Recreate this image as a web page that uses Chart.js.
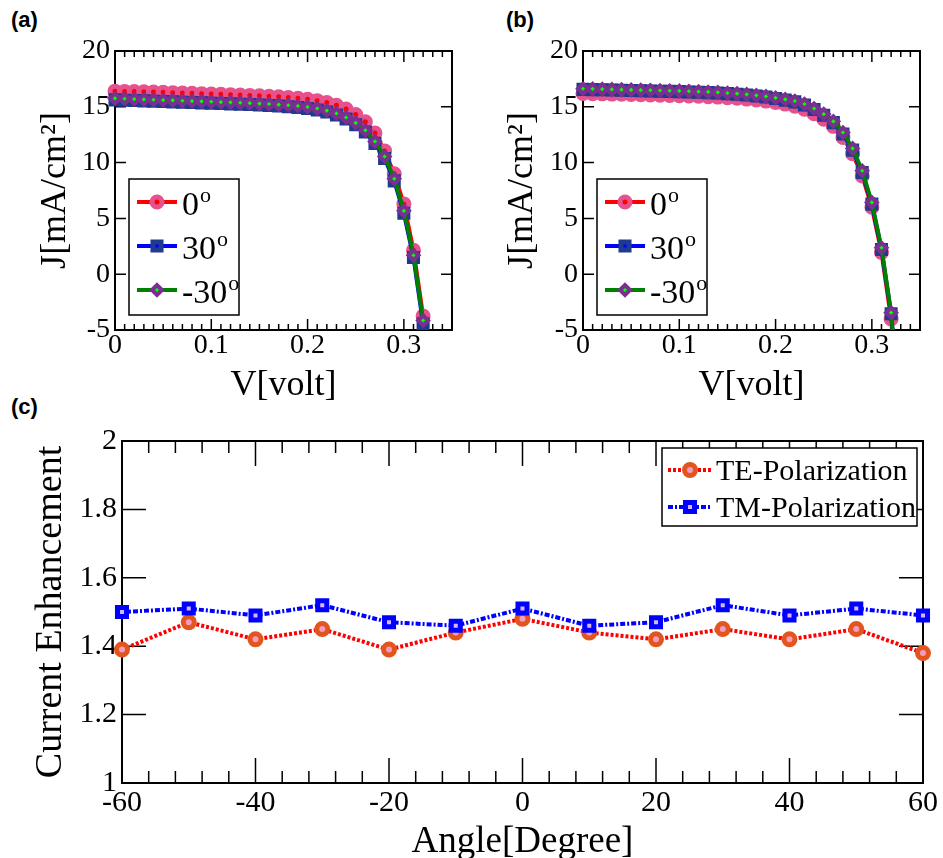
<!DOCTYPE html>
<html>
<head>
<meta charset="utf-8">
<script src="https://cdn.jsdelivr.net/npm/chart.js@4.4.0/dist/chart.umd.min.js"></script>
<style>
  body { margin: 0; background: #fff; width: 943px; height: 858px; position: relative; overflow: hidden; }
  canvas { position: absolute; }
  .panel { position: absolute; font: bold 22px "Liberation Sans", Arial, sans-serif; line-height: 22px; color: #000; }
</style>
</head>
<body>
<div class="panel" style="left:11px;top:9px">(a)</div>
<div class="panel" style="left:506px;top:9px">(b)</div>
<div class="panel" style="left:11px;top:396px">(c)</div>
<canvas id="chartA" width="470" height="410" style="left:0;top:0"></canvas>
<canvas id="chartB" width="473" height="410" style="left:470px;top:0"></canvas>
<canvas id="chartC" width="943" height="448" style="left:0;top:410px"></canvas>
<script>
'use strict'

const SERIF = '"Liberation Serif", "Times New Roman", serif';

// ---- panel (a) : J-V curves
const voltA = [0, 0.01, 0.02, 0.03, 0.04, 0.05, 0.06, 0.07, 0.08, 0.09, 0.1,
  0.11, 0.12, 0.13, 0.14, 0.15, 0.16, 0.17, 0.18, 0.19, 0.2,
  0.21, 0.22, 0.23, 0.24, 0.25, 0.26, 0.27, 0.28, 0.29, 0.3, 0.31, 0.32];
const jA0 = [16.40, 16.38, 16.36, 16.34, 16.32, 16.30, 16.27, 16.24, 16.21, 16.18, 16.15,
  16.12, 16.09, 16.06, 16.02, 15.98, 15.94, 15.89, 15.83, 15.76, 15.67,
  15.55, 15.38, 15.14, 14.80, 14.30, 13.65, 12.65, 11.05, 9.00, 6.30, 2.15, -3.75];
const jA30 = [15.62, 15.59, 15.56, 15.53, 15.50, 15.47, 15.44, 15.41, 15.38, 15.35, 15.32,
  15.29, 15.26, 15.23, 15.20, 15.16, 15.12, 15.07, 15.01, 14.94, 14.85,
  14.72, 14.53, 14.27, 13.90, 13.40, 12.74, 11.72, 10.37, 8.36, 5.46, 1.50, -4.45];
const jAm30 = [15.75, 15.72, 15.69, 15.66, 15.63, 15.60, 15.57, 15.54, 15.51, 15.48, 15.45,
  15.42, 15.39, 15.36, 15.33, 15.29, 15.25, 15.20, 15.14, 15.07, 14.98,
  14.85, 14.66, 14.40, 14.04, 13.56, 12.90, 11.90, 10.55, 8.55, 5.68, 1.70, -4.15];

// ---- panel (b)
const voltB = [0, 0.01, 0.02, 0.03, 0.04, 0.05, 0.06, 0.07, 0.08, 0.09, 0.1,
  0.11, 0.12, 0.13, 0.14, 0.15, 0.16, 0.17, 0.18, 0.19, 0.2,
  0.21, 0.22, 0.23, 0.24, 0.25, 0.26, 0.27, 0.28, 0.29, 0.3, 0.31, 0.32, 0.33];
const jB0 = [16.20, 16.18, 16.16, 16.14, 16.12, 16.10, 16.08, 16.06, 16.04, 16.02, 16.00,
  15.97, 15.94, 15.91, 15.87, 15.82, 15.76, 15.69, 15.61, 15.51, 15.38,
  15.24, 15.06, 14.78, 14.38, 13.88, 13.25, 12.25, 10.80, 8.80, 6.00, 1.95, -4.00, -14.0];
const jB30 = [16.56, 16.54, 16.52, 16.50, 16.48, 16.46, 16.44, 16.42, 16.40, 16.38, 16.36,
  16.33, 16.30, 16.27, 16.23, 16.18, 16.12, 16.05, 15.97, 15.87, 15.74,
  15.60, 15.44, 15.16, 14.75, 14.24, 13.58, 12.57, 11.12, 9.12, 6.28, 2.22, -3.55, -13.6];
const jBm30 = [16.62, 16.60, 16.58, 16.56, 16.54, 16.52, 16.50, 16.48, 16.46, 16.44, 16.42,
  16.39, 16.36, 16.33, 16.29, 16.24, 16.18, 16.11, 16.03, 15.93, 15.80,
  15.67, 15.52, 15.25, 14.85, 14.35, 13.70, 12.70, 11.27, 9.27, 6.43, 2.37, -3.45, -13.5];

const seriesAB = ['0o', '30o', '-30o'];
const xTicksAB = [0, 0.1, 0.2, 0.3];
const yTicksAB = [-5, 0, 5, 10, 15, 20];

// ---- panel (c) : current enhancement vs angle
const angles = [-60, -50, -40, -30, -20, -10, 0, 10, 20, 30, 40, 50, 60];
const teVals = [1.39, 1.47, 1.42, 1.45, 1.39, 1.44, 1.48, 1.44, 1.42, 1.45, 1.42, 1.45, 1.38];
const tmVals = [1.50, 1.51, 1.49, 1.52, 1.47, 1.46, 1.51, 1.46, 1.47, 1.52, 1.49, 1.51, 1.49];
const seriesC = ['TE-Polarization', 'TM-Polarization'];
const xTicksC = [-60, -40, -20, 0, 20, 40, 60];
const yTicksC = [1, 1.2, 1.4, 1.6, 1.8, 2];

function pts(xs, ys) {
  return xs.map((v, i) => ({ x: v, y: ys[i] }));
}

// frame + inward ticks on all four sides
const frameTicks = {
  id: 'frameTicks',
  beforeDatasetsDraw(chart, args, o) {
    const { ctx, chartArea: a, scales: { x, y } } = chart;
    ctx.save();
    ctx.strokeStyle = '#000';
    ctx.lineWidth = 1.5;
    ctx.beginPath();
    o.xMinor.forEach(v => {
      const px = x.getPixelForValue(v);
      ctx.moveTo(px, a.top); ctx.lineTo(px, a.top + o.xMinorLen);
      ctx.moveTo(px, a.bottom); ctx.lineTo(px, a.bottom - o.xMinorLen);
    });
    x.ticks.forEach(t => {
      const px = x.getPixelForValue(t.value);
      ctx.moveTo(px, a.top); ctx.lineTo(px, a.top + o.xMajorLen);
      ctx.moveTo(px, a.bottom); ctx.lineTo(px, a.bottom - o.xMajorLen);
    });
    y.ticks.forEach(t => {
      const py = y.getPixelForValue(t.value);
      ctx.moveTo(a.left, py); ctx.lineTo(a.left + o.yMajorLen, py);
      ctx.moveTo(a.right, py); ctx.lineTo(a.right - o.yMajorLen, py);
    });
    ctx.stroke();
    ctx.lineWidth = 2;
    ctx.strokeRect(a.left, a.top, a.right - a.left, a.bottom - a.top);
    ctx.restore();
  }
};

// boxed legend with line + marker, drawn inside the plot
const boxLegend = {
  id: 'boxLegend',
  afterDraw(chart, args, o) {
    const { ctx, chartArea: a } = chart;
    const x0 = o.fromRight ? a.right - o.dx - o.w : a.left + o.dx;
    const y0 = a.top + o.dy;
    ctx.save();
    ctx.fillStyle = '#fff';
    ctx.fillRect(x0, y0, o.w, o.h);
    ctx.strokeStyle = '#000';
    ctx.lineWidth = 1.5;
    ctx.strokeRect(x0, y0, o.w, o.h);
    chart.data.datasets.forEach((ds, i) => {
      const cy = y0 + o.first + i * o.gap;
      const lx = x0 + o.pad;
      ctx.beginPath();
      ctx.setLineDash(ds.borderDash || []);
      ctx.strokeStyle = ds.borderColor;
      ctx.lineWidth = ds.borderWidth;
      ctx.moveTo(lx, cy);
      ctx.lineTo(lx + o.line, cy);
      ctx.stroke();
      ctx.setLineDash([]);
      ctx.fillStyle = ds.pointBackgroundColor;
      ctx.strokeStyle = ds.pointBorderColor;
      ctx.lineWidth = ds.pointBorderWidth;
      Chart.helpers.drawPoint(ctx, { pointStyle: ds.pointStyle, radius: ds.pointRadius, borderWidth: ds.pointBorderWidth, rotation: 0 }, lx + o.line / 2, cy);
      ctx.fillStyle = '#000';
      ctx.textBaseline = 'alphabetic';
      ctx.textAlign = 'left';
      const tx = lx + o.line + o.gapText;
      const base = cy + o.baseOff;
      let main = ds.label, sup = '';
      if (o.supLast) { main = ds.label.slice(0, -1); sup = ds.label.slice(-1); }
      ctx.font = o.size + 'px ' + SERIF;
      ctx.fillText(main, tx, base);
      if (sup) {
        const w = ctx.measureText(main).width;
        ctx.font = o.supSize + 'px ' + SERIF;
        ctx.fillText(sup, tx + w + 1, base - o.supRaise);
      }
    });
    ctx.restore();
  }
};

const xMinorAB = [];
for (let i = 0; i <= 35; i++) xMinorAB.push(i / 100);
const xMinorC = [];
for (let v = -60; v <= 60; v += 4) xMinorC.push(v);

function ivSets(volt, s0, s30, sm30) {
  return [
    { label: seriesAB[0], data: pts(volt, s0), borderColor: '#ff0000', borderWidth: 4,
      pointStyle: 'circle', pointRadius: 5, pointBorderWidth: 5,
      pointBorderColor: '#e6528e', pointBackgroundColor: '#ff0000', order: 3 },
    { label: seriesAB[1], data: pts(volt, s30), borderColor: '#0000ff', borderWidth: 4,
      pointStyle: 'rect', pointRadius: 5.7, pointBorderWidth: 5,
      pointBorderColor: '#1f3a8f', pointBackgroundColor: '#0000ff', order: 2 },
    { label: seriesAB[2], data: pts(volt, sm30), borderColor: '#008000', borderWidth: 4,
      pointStyle: 'rectRot', pointRadius: 5, pointBorderWidth: 4,
      pointBorderColor: '#7b2f90', pointBackgroundColor: '#00ff00', order: 1 }
  ];
}

function ivOptions(yAxisWidth, padRight, titlePad) {
  return {
    responsive: false,
    animation: false,
    events: [],
    clip: { left: 10, top: 10, right: 10, bottom: 0 },
    layout: { padding: { left: 0, right: padRight, top: 51, bottom: 0 } },
    plugins: {
      legend: { display: false },
      tooltip: { enabled: false },
      frameTicks: { xMinor: xMinorAB, xMinorLen: 6, xMajorLen: 11, yMajorLen: 11 },
      boxLegend: { dx: 14, dy: 128, w: 110, h: 136, pad: 8, line: 40, gapText: 5,
        first: 23, gap: 44, size: 34, supSize: 22, supRaise: 13, baseOff: 13, supLast: true }
    },
    scales: {
      x: {
        type: 'linear', min: 0, max: 0.35,
        afterBuildTicks: s => { s.ticks = xTicksAB.map(v => ({ value: v })); },
        afterFit: s => { s.height = 80; },
        grid: { display: false, drawTicks: false }, border: { display: false },
        ticks: { color: '#000', font: { family: SERIF, size: 28, lineHeight: 1 }, padding: 2,
          maxRotation: 0, autoSkip: false, callback: v => String(v) },
        title: { display: true, text: 'V[volt]', color: '#000',
          font: { family: SERIF, size: 36, lineHeight: 1 }, padding: { top: 0, bottom: 6 } }
      },
      y: {
        type: 'linear', min: -5, max: 20,
        afterBuildTicks: s => { s.ticks = yTicksAB.map(v => ({ value: v })); },
        afterFit: s => { s.width = yAxisWidth; },
        grid: { display: false, drawTicks: false }, border: { display: false },
        ticks: { color: '#000', font: { family: SERIF, size: 28, lineHeight: 1 }, padding: 5,
          callback: v => String(v) },
        title: { display: true, text: 'J[mA/cm²]', color: '#000',
          font: { family: SERIF, size: 36, lineHeight: 1 }, padding: { top: titlePad, bottom: 0 } }
      }
    }
  };
}

new Chart(document.getElementById('chartA'), {
  type: 'line',
  data: { datasets: ivSets(voltA, jA0, jA30, jAm30) },
  options: ivOptions(115, 18, 38),
  plugins: [frameTicks, boxLegend]
});

new Chart(document.getElementById('chartB'), {
  type: 'line',
  data: { datasets: ivSets(voltB, jB0, jB30, jBm30) },
  options: ivOptions(113, 23, 35),
  plugins: [frameTicks, boxLegend]
});

new Chart(document.getElementById('chartC'), {
  type: 'line',
  data: {
    datasets: [
      { label: seriesC[0], data: pts(angles, teVals), borderColor: '#ff0000', borderWidth: 4,
        borderDash: [3, 2], pointStyle: 'circle', pointRadius: 5.5, pointBorderWidth: 5,
        pointBorderColor: '#e0561e', pointBackgroundColor: '#f79ac0', order: 2 },
      { label: seriesC[1], data: pts(angles, tmVals), borderColor: '#0000ff', borderWidth: 4,
        borderDash: [5, 2, 2, 2], pointStyle: 'rect', pointRadius: 6.4, pointBorderWidth: 5,
        pointBorderColor: '#0000ff', pointBackgroundColor: '#d9b3f2', order: 1 }
    ]
  },
  options: {
    responsive: false,
    animation: false,
    events: [],
    clip: false,
    layout: { padding: { left: 0, right: 15, top: 31, bottom: 0 } },
    plugins: {
      legend: { display: false },
      tooltip: { enabled: false },
      frameTicks: { xMinor: xMinorC, xMinorLen: 12, xMajorLen: 25, yMajorLen: 24 },
      boxLegend: { fromRight: true, dx: 6, dy: 7, w: 255, h: 78, pad: 6, line: 44, gapText: 4,
        first: 22, gap: 37, size: 30, supSize: 20, supRaise: 0, baseOff: 10, supLast: false }
    },
    scales: {
      x: {
        type: 'linear', min: -60, max: 60,
        afterBuildTicks: s => { s.ticks = xTicksC.map(v => ({ value: v })); },
        afterFit: s => { s.height = 75; },
        grid: { display: false, drawTicks: false }, border: { display: false },
        ticks: { color: '#000', font: { family: SERIF, size: 30, lineHeight: 1 }, padding: 5,
          maxRotation: 0, autoSkip: false, callback: v => String(v) },
        title: { display: true, text: 'Angle[Degree]', color: '#000',
          font: { family: SERIF, size: 37, lineHeight: 1 }, padding: { top: 0, bottom: -3 } }
      },
      y: {
        type: 'linear', min: 1, max: 2,
        afterBuildTicks: s => { s.ticks = yTicksC.map(v => ({ value: v })); },
        afterFit: s => { s.width = 122; },
        grid: { display: false, drawTicks: false }, border: { display: false },
        ticks: { color: '#000', font: { family: SERIF, size: 30, lineHeight: 1 }, padding: 5,
          callback: v => String(v) },
        title: { display: true, text: 'Current Enhancement', color: '#000',
          font: { family: SERIF, size: 38, lineHeight: 1 }, padding: { top: 32, bottom: 0 } }
      }
    }
  },
  plugins: [frameTicks, boxLegend]
});
</script>
</body>
</html>
